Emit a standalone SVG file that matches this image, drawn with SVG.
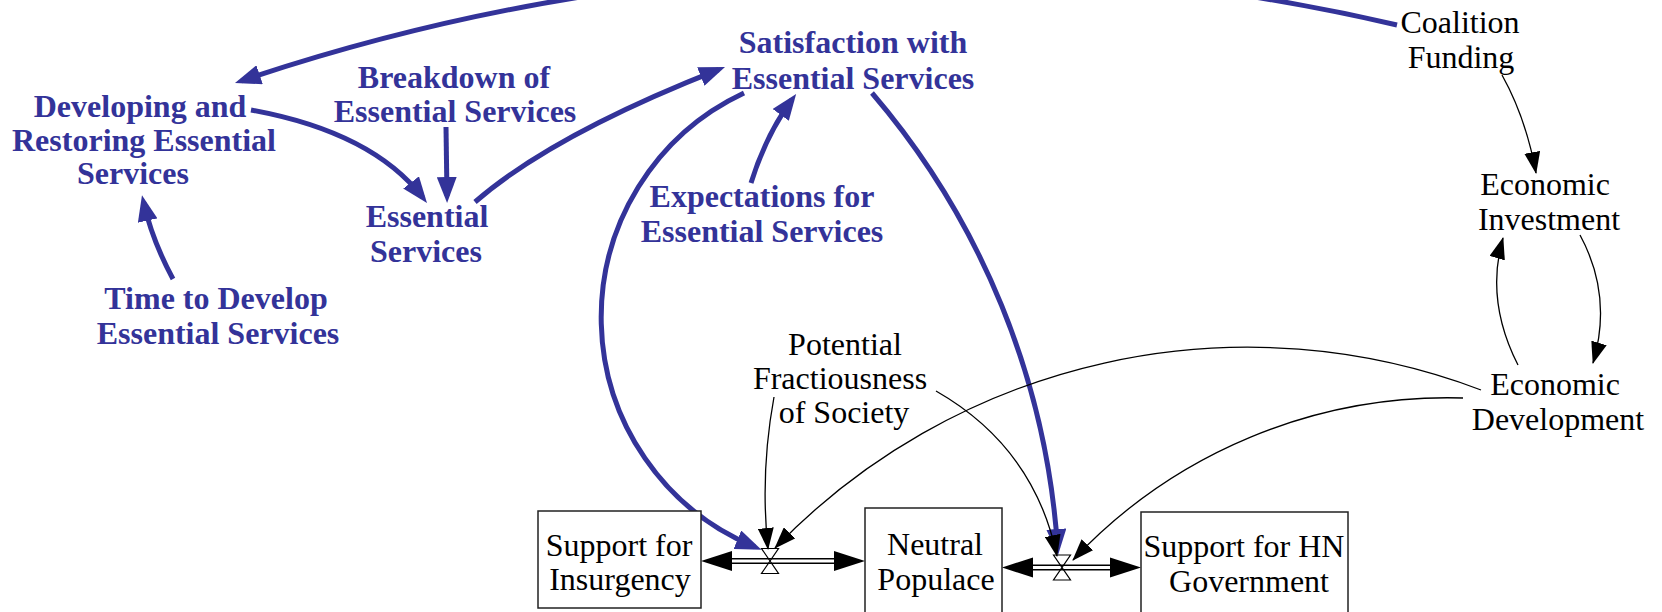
<svg xmlns="http://www.w3.org/2000/svg" width="1662" height="612" viewBox="0 0 1662 612">
<defs>
<style>
.b { font-family: "Liberation Serif", "Times New Roman", serif; font-weight: bold; font-size: 32px; fill: #333399; text-anchor: middle; }
.k { font-family: "Liberation Serif", "Times New Roman", serif; font-size: 32px; fill: #000; text-anchor: middle; }
.bl { fill: none; stroke: #333399; stroke-width: 5; }
.kl { fill: none; stroke: #000; stroke-width: 1.3; }
.stock { fill: #fff; stroke: #222; stroke-width: 1.5; }
.po { stroke: #000; stroke-width: 6; fill: none; }
.pi { stroke: #fff; stroke-width: 3; fill: none; }
.valve { fill: none; stroke: #000; stroke-width: 1.2; }
.fa { fill: #000; }
</style>
<marker id="ab" markerUnits="userSpaceOnUse" viewBox="0 0 26 20" refX="19" refY="10" markerWidth="26" markerHeight="20" orient="auto"><path d="M0,0 L26,10 L0,20 Z" fill="#333399"/></marker>
<marker id="ak" markerUnits="userSpaceOnUse" viewBox="0 0 22 16" refX="21" refY="8" markerWidth="22" markerHeight="16" orient="auto"><path d="M0,0 L22,8 L0,16 Z" fill="#000"/></marker>
</defs>
<rect width="1662" height="612" fill="#fff"/>

<g id="connectors">
  <path class="bl" marker-end="url(#ab)" d="M1397,25 A2120,2120 0 0 0 241.6,80.8"/>
  <path class="bl" marker-end="url(#ab)" d="M251,110 Q372,132 422.7,197.5"/>
  <path class="bl" marker-end="url(#ab)" d="M446,127 L447,196"/>
  <path class="bl" marker-end="url(#ab)" d="M475,202 Q552,135 718.5,69.6"/>
  <path class="bl" marker-end="url(#ab)" d="M751,183 Q766,135 792,99.6"/>
  <path class="bl" marker-end="url(#ab)" d="M173,279 Q152,240 143.5,202"/>
  <path class="bl" marker-end="url(#ab)" d="M744,93 A248,248 0 0 0 755,547"/>
  <path class="bl" marker-end="url(#ab)" d="M872,93 A779,779 0 0 1 1057.6,548"/>
  <path class="kl" marker-end="url(#ak)" d="M1502,75 Q1526,118 1536,173"/>
  <path class="kl" marker-end="url(#ak)" d="M1580,235 Q1613,296 1593,363"/>
  <path class="kl" marker-end="url(#ak)" d="M1518,365 Q1485,300 1503,238"/>
  <path class="kl" marker-end="url(#ak)" d="M1481,390 A657,657 0 0 0 775,548"/>
  <path class="kl" marker-end="url(#ak)" d="M1463,398 A514,514 0 0 0 1073,560"/>
  <path class="kl" marker-end="url(#ak)" d="M774,397 Q760,473 768,549"/>
  <path class="kl" marker-end="url(#ak)" d="M936,391 Q1034,447 1057,556"/>
</g>

<g id="flow-insurgency-neutral">
  <path class="po" d="M715,561 H850"/>
  <path class="pi" d="M715,561 H850"/>
  <polygon class="fa" points="701,561 732,551 732,571"/>
  <polygon class="fa" points="865,561 834,551 834,571"/>
  <path class="valve" d="M761.5,548.5 H778.5 L761.5,573.5 H778.5 Z"/>
</g>
<g id="flow-neutral-hn">
  <path class="po" d="M1015,567.5 H1128"/>
  <path class="pi" d="M1015,567.5 H1128"/>
  <polygon class="fa" points="1002,567.5 1033,557.5 1033,577.5"/>
  <polygon class="fa" points="1141,567.5 1110,557.5 1110,577.5"/>
  <path class="valve" d="M1053.5,555 H1070.5 L1053.5,580 H1070.5 Z"/>
</g>

<g id="developing-restoring">
  <text class="b" x="140" y="117">Developing and</text>
  <text class="b" x="144" y="151">Restoring Essential</text>
  <text class="b" x="133" y="184">Services</text>
</g>
<g id="breakdown">
  <text class="b" x="454" y="88">Breakdown of</text>
  <text class="b" x="455" y="122">Essential Services</text>
</g>
<g id="essential-services">
  <text class="b" x="427" y="227">Essential</text>
  <text class="b" x="426" y="262">Services</text>
</g>
<g id="satisfaction">
  <text class="b" x="853" y="53">Satisfaction with</text>
  <text class="b" x="853" y="89">Essential Services</text>
</g>
<g id="expectations">
  <text class="b" x="762" y="207">Expectations for</text>
  <text class="b" x="762" y="242">Essential Services</text>
</g>
<g id="time-to-develop">
  <text class="b" x="216" y="309">Time to Develop</text>
  <text class="b" x="218" y="344">Essential Services</text>
</g>
<g id="coalition-funding">
  <text class="k" x="1460" y="33">Coalition</text>
  <text class="k" x="1461" y="68">Funding</text>
</g>
<g id="economic-investment">
  <text class="k" x="1545" y="195">Economic</text>
  <text class="k" x="1549" y="230">Investment</text>
</g>
<g id="economic-development">
  <text class="k" x="1555" y="395">Economic</text>
  <text class="k" x="1558" y="430">Development</text>
</g>
<g id="fractiousness">
  <text class="k" x="845" y="355">Potential</text>
  <text class="k" x="840" y="389">Fractiousness</text>
  <text class="k" x="844" y="423">of Society</text>
</g>
<g id="support-insurgency">
  <rect class="stock" x="538" y="511" width="163" height="97"/>
  <text class="k" x="619" y="556">Support for</text>
  <text class="k" x="620" y="590">Insurgency</text>
</g>
<g id="neutral-populace">
  <rect class="stock" x="865" y="508" width="137" height="110"/>
  <text class="k" x="935" y="555">Neutral</text>
  <text class="k" x="936" y="590">Populace</text>
</g>
<g id="support-hn">
  <rect class="stock" x="1141" y="512" width="207" height="106"/>
  <text class="k" x="1244" y="557">Support for HN</text>
  <text class="k" x="1249" y="592">Government</text>
</g>
</svg>
